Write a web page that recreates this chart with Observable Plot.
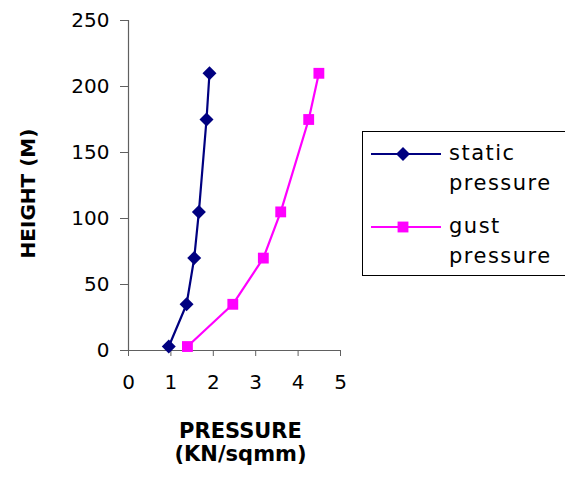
<!DOCTYPE html>
<html>
<head>
<meta charset="utf-8">
<script src="https://cdn.jsdelivr.net/npm/d3@7"></script>
<script src="https://cdn.jsdelivr.net/npm/@observablehq/plot@0.6"></script>
<style>
  html, body { margin: 0; padding: 0; background: #fff; overflow: hidden; }
  #wrap { position: relative; width: 565px; height: 479px; overflow: hidden; }
  #legend { position: absolute; left: 362px; top: 131px; }
</style>
</head>
<body>
<div id="wrap"></div>
<script>
// ---- data ----
const heights = [3, 35, 70, 105, 175, 210];
const staticPressure = [0.95, 1.37, 1.55, 1.66, 1.84, 1.91];
const gustPressure = [1.39, 2.46, 3.18, 3.59, 4.25, 4.49];
const seriesNames = ["static pressure", "gust pressure"];
const seriesColors = ["#000080", "#ff00ff"];
const xTicks = [0, 1, 2, 3, 4, 5];
const yTicks = [0, 50, 100, 150, 200, 250];
const xTitle = "PRESSURE\n(KN/sqmm)";
const yTitle = "HEIGHT (M)";

const rows = [];
heights.forEach((h, i) => {
  rows.push({series: seriesNames[0], p: staticPressure[i], h});
});
heights.forEach((h, i) => {
  rows.push({series: seriesNames[1], p: gustPressure[i], h});
});
const staticRows = rows.filter(d => d.series === seriesNames[0]);
const gustRows = rows.filter(d => d.series === seriesNames[1]);

const font = "'DejaVu Sans', 'Liberation Sans', Arial, sans-serif";
const axisColor = "#606060";

const chart = Plot.plot({
  width: 565,
  height: 479,
  marginLeft: 128,
  marginRight: 225,
  marginTop: 20,
  marginBottom: 129,
  style: {fontFamily: font, fontSize: "20px", color: "black", background: "white"},
  x: {domain: [0, 5], inset: 0},
  y: {domain: [0, 250], inset: 0},
  marks: [
    Plot.ruleX([0], {stroke: axisColor, strokeWidth: 1.2}),
    Plot.ruleY([0], {stroke: axisColor, strokeWidth: 1.2}),
    Plot.axisX({ticks: xTicks, tickFormat: d3.format("d"), tickSize: 6, tickPadding: 18, stroke: axisColor, fill: "black", label: null, fontSize: 20}),
    Plot.axisY({ticks: yTicks, tickFormat: d3.format("d"), tickSize: 8, tickPadding: 11, stroke: axisColor, fill: "black", label: null, fontSize: 20}),
    Plot.line(staticRows, {x: "p", y: "h", stroke: seriesColors[0], strokeWidth: 2.2}),
    Plot.dot(staticRows, {x: "p", y: "h", symbol: "diamond2", r: 6.3, fill: seriesColors[0], stroke: "none"}),
    Plot.line(gustRows, {x: "p", y: "h", stroke: seriesColors[1], strokeWidth: 2.2}),
    Plot.dot(gustRows, {x: "p", y: "h", symbol: "square2", r: 6.9, fill: seriesColors[1], stroke: "none"}),
    Plot.text([yTitle], {text: d => d, frameAnchor: "left", textAnchor: "middle", rotate: -90, dx: -100, dy: 8,
      lineAnchor: "middle", fontSize: 20, fontWeight: "bold", fill: "black"}),
    Plot.text([xTitle], {text: d => d, frameAnchor: "bottom", textAnchor: "middle", lineAnchor: "top", dx: 6, dy: 71,
      lineHeight: 1.1, fontSize: 21, fontWeight: "bold", fill: "black"})
  ]
});
document.getElementById("wrap").appendChild(chart);

// ---- legend ----
const lg = d3.select("#wrap").append("svg")
  .attr("id", "legend")
  .attr("width", 210).attr("height", 146)
  .style("font-family", font);
lg.append("rect").attr("x", 0.5).attr("y", 0.5).attr("width", 230).attr("height", 144)
  .attr("fill", "white").attr("stroke", "black").attr("stroke-width", 1);
const symbols = [d3.symbol(d3.symbolDiamond2, 125), d3.symbol(d3.symbolSquare2, 150)];
const entryY = [23, 96];
seriesNames.forEach((name, i) => {
  const g = lg.append("g").attr("transform", `translate(0,${entryY[i]})`);
  g.append("line").attr("x1", 9).attr("x2", 79).attr("y1", 0).attr("y2", 0)
    .attr("stroke", seriesColors[i]).attr("stroke-width", 2);
  g.append("path").attr("d", symbols[i]()).attr("transform", "translate(41,0)")
    .attr("fill", seriesColors[i]);
  const words = name.split(" ");
  const t = g.append("text").attr("x", 87).attr("y", 6)
    .attr("font-size", 21).attr("letter-spacing", "1.5px").attr("fill", "black");
  words.forEach((w, j) => {
    t.append("tspan").attr("x", 87).attr("dy", j === 0 ? 0 : 30).text(w);
  });
});
</script>
</body>
</html>
